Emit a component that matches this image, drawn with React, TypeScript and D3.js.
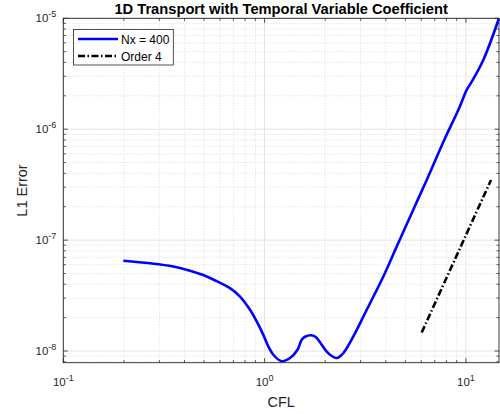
import React from "react";
import * as d3 from "d3";

const title = "1D Transport with Temporal Variable Coefficient";
const xLabel = "CFL";
const yLabel = "L1 Error";
const legendLabels = ["Nx = 400", "Order 4"];

const cfl = [0.1987, 0.2696, 0.3518, 0.426, 0.5159, 0.6006, 0.673, 0.7547, 0.8462, 0.9136, 0.9852, 1.0432, 1.1046, 1.2161, 1.3375, 1.4572, 1.5287, 1.5879, 1.71, 1.8005, 1.9213, 2.0184, 2.1135, 2.2812, 2.4604, 2.7584, 3.216, 3.8886, 4.5318, 5.3788, 6.388, 7.8736, 9.1681, 10.093, 10.686, 12.201, 14.6];
const err = [6.51e-8, 6.18e-8, 5.78e-8, 5.29e-8, 4.7e-8, 4.12e-8, 3.69e-8, 3.1e-8, 2.36e-8, 1.85e-8, 1.4e-8, 1.1e-8, 9.26e-9, 8.09e-9, 8.65e-9, 1.027e-8, 1.264e-8, 1.345e-8, 1.388e-8, 1.331e-8, 1.14e-8, 1.006e-8, 9.26e-9, 8.65e-9, 9.59e-9, 1.353e-8, 2.355e-8, 4.7e-8, 8.76e-8, 1.75e-7, 3.49e-7, 8.3e-7, 1.49e-6, 2.26e-6, 2.68e-6, 4.21e-6, 1.0e-5];

const orderCfl = [6.03, 13.33];
const orderErr = [1.47e-8, 3.49e-7];

const xTickExps = [-1, 0, 1];
const yTickExps = [-8, -7, -6, -5];

const xDomain = [0.1, 14.6];
const yDomain = [7.85e-9, 1e-5];

const W = 500, H = 414;
const L = 63.3, R = 499, T = 18.3, B = 362.7;
const axisColor = "#262626";
const font = "'Liberation Sans', Arial, Helvetica, sans-serif";

export default function App() {
  const x = d3.scaleLog().domain(xDomain).range([L, R]);
  const y = d3.scaleLog().domain(yDomain).range([B, T]);

  const minorX: number[] = [];
  for (let e = -1; e <= 1; e++) for (let m = 1; m <= 9; m++) {
    const v = m * Math.pow(10, e);
    if (v >= xDomain[0] && v <= xDomain[1]) minorX.push(v);
  }
  const minorY: number[] = [];
  for (let e = -9; e <= -5; e++) for (let m = 1; m <= 9; m++) {
    const v = m * Math.pow(10, e);
    if (v >= yDomain[0] * 0.9999 && v <= yDomain[1] * 1.0001) minorY.push(v);
  }
  const majX = xTickExps.map((e) => Math.pow(10, e));
  const majY = yTickExps.map((e) => Math.pow(10, e));
  const isMajor = (v: number) => Math.abs(Math.log10(v) - Math.round(Math.log10(v))) < 1e-9;

  const line = d3.line<number>().x((_, i) => x(cfl[i])).y((_, i) => y(err[i])).curve(d3.curveCatmullRom.alpha(0.5));
  const oLine = d3.line<number>().x((_, i) => x(orderCfl[i])).y((_, i) => y(orderErr[i]));

  return (
    <svg width={W} height={H} style={{ position: "absolute", left: 0, top: 0, background: "#fff" }} fontFamily={font}>
      <rect x={0} y={0} width={W} height={H} fill="#fff" />
      {minorX.filter((v) => !isMajor(v)).map((v, i) => (
        <line key={"mx" + i} x1={x(v)} x2={x(v)} y1={T} y2={B} stroke="#c8c8c8" strokeWidth={0.7} strokeDasharray="1,2" />
      ))}
      {minorY.filter((v) => !isMajor(v)).map((v, i) => (
        <line key={"my" + i} y1={y(v)} y2={y(v)} x1={L} x2={R} stroke="#c8c8c8" strokeWidth={0.7} strokeDasharray="1,2" />
      ))}
      {majX.map((v, i) => (
        <line key={"gx" + i} x1={x(v)} x2={x(v)} y1={T} y2={B} stroke="#e3e3e3" strokeWidth={1} />
      ))}
      {majY.map((v, i) => (
        <line key={"gy" + i} y1={y(v)} y2={y(v)} x1={L} x2={R} stroke="#e3e3e3" strokeWidth={1} />
      ))}
      {minorX.map((v, i) => {
        const len = isMajor(v) ? 4.5 : 2.5;
        return (
          <g key={"tx" + i} stroke={axisColor} strokeWidth={0.8}>
            <line x1={x(v)} x2={x(v)} y1={B} y2={B - len} />
            <line x1={x(v)} x2={x(v)} y1={T} y2={T + len} />
          </g>
        );
      })}
      {minorY.map((v, i) => {
        const len = isMajor(v) ? 4.5 : 2.5;
        return (
          <g key={"ty" + i} stroke={axisColor} strokeWidth={0.8}>
            <line y1={y(v)} y2={y(v)} x1={L} x2={L + len} />
            <line y1={y(v)} y2={y(v)} x1={R} x2={R - len} />
          </g>
        );
      })}
      <path d={line(cfl) || ""} fill="none" stroke="#0000ff" strokeWidth={2.6} strokeLinejoin="round" />
      <path d={oLine(orderCfl) || ""} fill="none" stroke="#000" strokeWidth={2.6} strokeDasharray="7,2.5,1.5,2.5" />
      <rect x={L} y={T} width={R - L} height={B - T} fill="none" stroke={axisColor} strokeWidth={0.9} />
      {xTickExps.map((e, i) => (
        <text key={"xl" + i} x={x(Math.pow(10, e))} y={386} textAnchor="middle" fontSize={11.5} fill={axisColor}>
          10<tspan dy={-5.5} fontSize={9}>{e}</tspan>
        </text>
      ))}
      {yTickExps.map((e, i) => (
        <text key={"yl" + i} x={L - 7} y={y(Math.pow(10, e)) + 4} textAnchor="end" fontSize={11.5} fill={axisColor}>
          10<tspan dy={-5.5} fontSize={9}>{e}</tspan>
        </text>
      ))}
      <text x={(L + R) / 2} y={407} textAnchor="middle" fontSize={14.5} fill={axisColor}>{xLabel}</text>
      <text transform={`translate(27,${(T + B) / 2}) rotate(-90)`} textAnchor="middle" fontSize={14.5} fill={axisColor}>{yLabel}</text>
      <text x={(L + R) / 2} y={13.5} textAnchor="middle" fontSize={14.7} fontWeight="bold" fill="#000">{title}</text>
      <g>
        <rect x={73.5} y={29.5} width={99.8} height={35.5} fill="#fff" stroke={axisColor} strokeWidth={0.8} />
        <line x1={78} x2={118} y1={39} y2={39} stroke="#0000ff" strokeWidth={2.6} />
        <text x={121} y={43.5} fontSize={12} fill="#000">{legendLabels[0]}</text>
        <line x1={78} x2={118} y1={56} y2={56} stroke="#000" strokeWidth={2.6} strokeDasharray="7,2.5,1.5,2.5" />
        <text x={121} y={60.5} fontSize={12} fill="#000">{legendLabels[1]}</text>
      </g>
    </svg>
  );
}
